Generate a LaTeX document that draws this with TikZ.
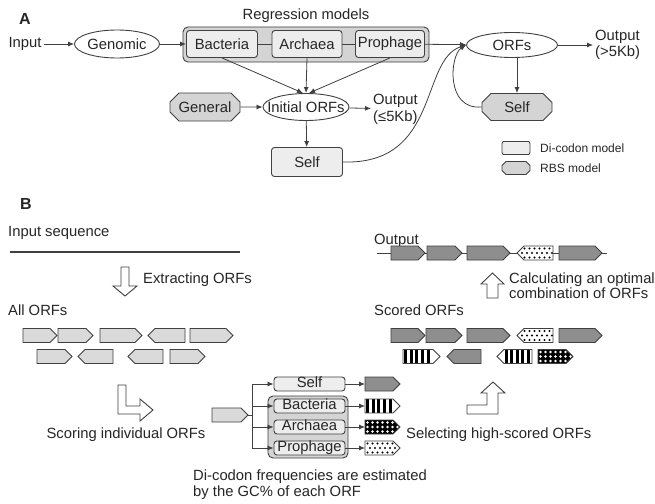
\documentclass[tikz,border=0pt]{standalone}
\usepackage{fontspec}
\setmainfont{Liberation Sans}
\usetikzlibrary{shapes.geometric,shapes.misc,arrows.meta}
\definecolor{ln}{HTML}{404040}
\definecolor{lite}{HTML}{EDEDED}
\definecolor{mid}{HTML}{D4D4D4}
\definecolor{orfl}{HTML}{DADADA}
\definecolor{orfd}{HTML}{8E8E8E}
\tikzset{
 arr/.style={draw=ln, line width=0.8pt, -{Latex[length=6pt,width=5pt]}},
 lnk/.style={draw=ln, line width=0.8pt},
 dbox/.style={draw=ln, fill=lite, rounded corners=3pt, line width=0.9pt, inner sep=0pt},
 rbs/.style={chamfered rectangle, chamfered rectangle xsep=6pt, draw=ln, fill=mid, line width=0.9pt, inner sep=0pt},
 rbsleg/.style={draw=ln, fill=mid, line width=0.9pt},
 ell/.style={ellipse, draw=ln, fill=white, line width=0.9pt, inner sep=0pt},
 grp/.style={draw=ln, fill=mid, rounded corners=5pt, line width=0.9pt, inner sep=0pt},
 sbox/.style={dbox, minimum width=71pt, minimum height=14pt, text height=10pt, text depth=3pt},
 orf/.style={draw=ln, line width=0.8pt, fill=orfl},
 gorf/.style={fill=orfd},
 harr/.style={draw=ln, fill=white, line width=0.9pt},
 lbl/.style={font=\bfseries\fontsize{16}{16}\selectfont},
 small/.style={font=\fontsize{12}{12}\selectfont},
 stripesR/.style={fill=white, path picture={\foreach \i in {0,...,4} \fill[black] ([xshift=\i*5.6pt+1.2pt]path picture bounding box.south west) rectangle ++(3pt,20pt);}},
 stripesL/.style={fill=white, path picture={\foreach \i in {0,...,4} \fill[black] ([xshift=\i*5.6pt+7.5pt]path picture bounding box.south west) rectangle ++(3pt,20pt);}},
 dotsW/.style={fill=white, path picture={\foreach \i in {0,...,7} \foreach \j in {0,1,2} \fill[black] ([xshift={\i*5pt+2.5pt+mod(\j,2)*2.5pt},yshift={\j*4.5pt+2.5pt}]path picture bounding box.south west) circle (1.1pt);}},
 dotsB/.style={fill=black, path picture={\foreach \i in {0,...,7} \foreach \j in {0,1,2} \fill[white] ([xshift={\i*5pt+2.5pt},yshift={\j*4.5pt+2.5pt}]path picture bounding box.south west) circle (1.3pt);}},
}
\newcommand\orfR[4]{\path[orf,#4] (#1,#3-7) -- (#2-7,#3-7) -- (#2,#3) -- (#2-7,#3+7) -- (#1,#3+7) -- cycle;}
\newcommand\orfL[4]{\path[orf,#4] (#2,#3-7) -- (#1+7,#3-7) -- (#1,#3) -- (#1+7,#3+7) -- (#2,#3+7) -- cycle;}
\begin{document}
\begin{tikzpicture}[x=1pt,y=-1pt,font=\fontsize{14.8}{16}\selectfont,text=black!85,inner sep=2pt]
\fill[white] (0,0) rectangle (655,503);
\useasboundingbox (0,0) rectangle (655,503);
% ---------------- A ----------------
\node[lbl] (labA) at (25,19) {A};
\node (inp) at (25,44) {Input};
\node[ell, minimum width=85pt, minimum height=28pt] (gen) at (117,44) {};
\node (genT) at (gen) {Genomic};
\node[grp, minimum width=246pt, minimum height=35pt] (reg) at (306,44.5) {};
\node (regT) at (306,16) {Regression models};
\node[dbox, minimum width=71pt, minimum height=27pt] (bacA) at (222,44) {Bacteria};
\node[dbox, minimum width=70pt, minimum height=27pt] (arcA) at (307,44) {Archaea};
\node[dbox, minimum width=69pt, minimum height=27pt] (proA) at (390,44) {Prophage};
\draw[lnk] (bacA) -- (arcA);
\draw[lnk] (arcA) -- (proA);
\node[ell, minimum width=91pt, minimum height=25pt] (orfs) at (512,45) {};
\node (orfsT) at (orfs) {ORFs};
\node[anchor=west, align=left] (outA) at (593,45) {Output\\(>5Kb)};
\draw[arr] (inp) -- (gen);
\draw[arr] (gen) -- (bacA);
\draw[arr] (proA) -- (orfs);
\draw[arr] (orfs) -- (outA);
\node[rbs, minimum width=70pt, minimum height=27pt] (selfA) at (517,107) {Self};
\draw[arr] (selfA.north |- orfs.south) -- (selfA.north);
\draw[arr] (selfA.west) .. controls (445,110) and (450,55) .. (orfs.west);
\node[ell, minimum width=86pt, minimum height=27pt] (init) at (306,107) {};
\node (initT) at (init) {Initial ORFs};
\node[rbs, minimum width=70pt, minimum height=28pt] (genl) at (205,107) {General};
\draw[arr] (genl) -- (init);
\draw[arr] (bacA.south) -- ([xshift=-3pt]init.north);
\draw[arr] (arcA.south) -- (init.north);
\draw[arr] (proA.south) -- ([xshift=3pt]init.north);
\node[anchor=west, align=left, font=\fontsize{14.8}{17}\selectfont] (outB) at (371,109) {Output\\(≤5Kb)};
\draw[arr] (init) -- (outB);
\node[dbox, minimum width=71pt, minimum height=29pt] (selfB) at (307,162) {Self};
\draw[arr] (init) -- (selfB);
\draw[arr] (selfB.east) .. controls (440,165) and (420,60) .. (orfs.west);
% legend
\node[dbox, rounded corners=2pt, minimum width=28pt, minimum height=13pt] (lg1) at (516,148) {};
\node[small, anchor=west] (lg1T) at (538,148) {Di-codon model};
\path[rbsleg] (506,161.5) -- (526,161.5) -- (530,165.5) -- (530,170.5) -- (526,174.5) -- (506,174.5) -- (502,170.5) -- (502,165.5) -- cycle;
\node[small, anchor=west] (lg2T) at (538,168) {RBS model};
% ---------------- B ----------------
\node[lbl] (labB) at (26,204) {B};
\node[anchor=west] (inseq) at (6,233) {Input sequence};
\draw[draw=ln, line width=1.8pt] (10,252) -- (240,252);
\path[harr] (121,267) -- (129,267) -- (129,286) -- (137,286) -- (125,296) -- (113,286) -- (121,286) -- cycle;
\node[anchor=west] (extr) at (141,280) {Extracting ORFs};
\node[anchor=west] (allo) at (6,310) {All ORFs};
% all ORFs
\orfR{23}{57}{335.5}{}
\orfR{58}{93}{335.5}{}
\orfR{100}{142}{335.5}{}
\orfL{148}{185}{335.5}{}
\orfR{190}{233}{335.5}{}
\orfR{37}{72}{356.5}{}
\orfL{78}{113}{356.5}{}
\orfL{128}{163}{356.5}{}
\orfR{170}{205}{356.5}{}
% scoring arrow
\path[harr] (118,385) -- (126,385) -- (126,406) -- (140,406) -- (140,399) -- (153,410) -- (140,421) -- (140,414) -- (118,414) -- cycle;
\node (scor) at (126,435) {Scoring individual ORFs};
% middle
\orfR{212}{248}{415}{}
\coordinate (src) at (248,415);
\coordinate (br) at (252,415);
\node[grp, minimum width=80pt, minimum height=62pt] (grpB) at (308,427) {};
\node[sbox] (selfb) at (309.5,384) {Self};
\node[sbox] (bacb) at (309.5,406) {Bacteria};
\node[sbox] (arcb) at (309.5,427) {Archaea};
\node[sbox] (prob) at (309.5,448) {Prophage};
\draw[lnk] (src) -- (br);
\foreach \n in {selfb,bacb,arcb,prob} \draw[arr] (br) |- (\n.west);
\orfR{365}{400}{384}{gorf}
\orfR{365}{400}{406}{stripesR}
\orfR{365}{400}{427}{dotsB}
\orfR{365}{400}{448}{dotsW}
\coordinate (tS) at (365,384);
\coordinate (tB) at (365,406);
\coordinate (tA) at (365,427);
\coordinate (tP) at (365,448);
\draw[arr] (selfb.east) -- (tS);
\draw[arr] (bacb.east) -- (tB);
\draw[arr] (arcb.east) -- (tA);
\draw[arr] (prob.east) -- (tP);
\node[anchor=west, align=left] (dic) at (191,485) {Di-codon frequencies are estimated\\by the GC\% of each ORF};
% selecting arrow
\path[harr] (467,405) -- (487,405) -- (487,393) -- (481,393) -- (493,382) -- (505,393) -- (498,393) -- (498,414) -- (467,414) -- cycle;
\node[anchor=west] (sel) at (404,435) {Selecting high-scored ORFs};
% scored ORFs
\node[anchor=west] (scd) at (372,310) {Scored ORFs};
\orfR{391}{425}{335.5}{gorf}
\orfR{426}{462}{335.5}{gorf}
\orfR{467}{510}{335.5}{gorf}
\orfL{517}{553}{335.5}{dotsW}
\orfR{559}{602}{335.5}{gorf}
\orfR{403}{440}{356.5}{stripesR}
\orfL{447}{481}{356.5}{gorf}
\orfL{497}{532}{356.5}{stripesL}
\orfR{538}{573}{356.5}{dotsB}
% calculating arrow
\path[harr] (487,298) -- (498,298) -- (498,284) -- (504,284) -- (492.5,273) -- (481,284) -- (487,284) -- cycle;
\node[anchor=west, align=left, font=\fontsize{14.8}{13.5}\selectfont] (calc) at (507,286) {Calculating an optimal\\combination of ORFs};
% output
\node[anchor=west] (outp) at (372,240.5) {Output};
\draw[draw=ln, line width=1pt] (377,253) -- (607,253);
\orfR{391}{425}{253}{gorf}
\orfR{427}{462}{253}{gorf}
\orfR{467}{510}{253}{gorf}
\orfL{517}{553}{253}{dotsW}
\orfR{559}{602}{253}{gorf}
\end{tikzpicture}
\end{document}
